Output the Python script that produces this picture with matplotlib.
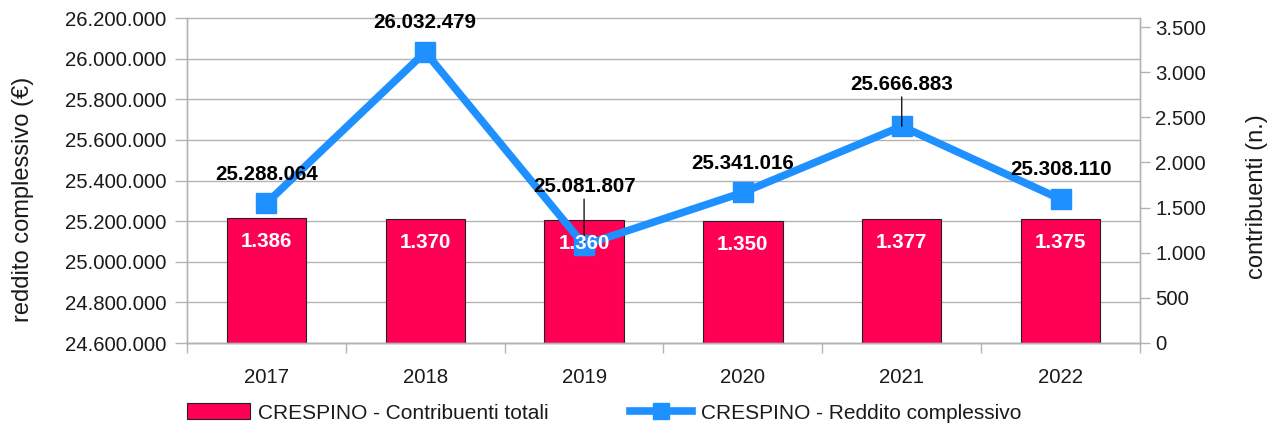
#!/usr/bin/env python

import numpy as np
import matplotlib
matplotlib.use('Agg')
from matplotlib import pyplot as plt
from matplotlib.ticker import FuncFormatter, FixedLocator
from matplotlib.transforms import blended_transform_factory

plt.rcParams['font.family'] = ['Liberation Sans', 'DejaVu Sans']

years = ['2017', '2018', '2019', '2020', '2021', '2022']
contribuenti = [1386, 1370, 1360, 1350, 1377, 1375]
reddito = [25288064, 26032479, 25081807, 25341016, 25666883, 25308110]

label_bar = 'CRESPINO - Contribuenti totali'
label_line = 'CRESPINO - Reddito complessivo'

BAR_COLOR = '#ff0055'
LINE_COLOR = '#1e90ff'
GRID_COLOR = '#b3b3b3'
TEXT_COLOR = '#1a1a1a'
FS = 14.7      # tick labels
FS_DATA = 14.8 # value labels
FS_AX = 17     # axis titles
FS_LEG = 15

W, H = 1277, 428


def dotted(v, pos=None):
    return f'{int(round(v)):,}'.replace(',', '.')


def plot():
    fig = plt.figure(figsize=(W / 100, H / 100), dpi=100)
    ax = fig.add_axes([187 / W, 1 - 343 / H, (1140 - 187) / W, (343 - 18) / H])
    ax2 = ax.twinx()
    # line axes on top of the bar axes
    ax2.set_zorder(1)
    ax.set_zorder(2)
    ax.patch.set_visible(False)

    x = np.arange(len(years))

    # right axis: bars
    ax2.bar(x, contribuenti, width=0.5, color=BAR_COLOR, edgecolor='#222222', linewidth=0.8, zorder=2)
    ax2.set_ylim(0, 3600)
    ax2.yaxis.set_major_locator(FixedLocator(np.arange(0, 3501, 500)))
    ax2.yaxis.set_major_formatter(FuncFormatter(dotted))
    ax2.set_ylabel('contribuenti (n.)', fontsize=FS_AX, color=TEXT_COLOR)
    ax2.yaxis.set_label_coords(1246 / W, 1 - 197 / H, transform=fig.transFigure)

    # left axis: line
    ax.plot(x, reddito, color=LINE_COLOR, lw=5.5, marker='s', markersize=14, zorder=3)
    ax.set_ylim(24600000, 26200000)
    left_ticks = np.arange(24600000, 26200001, 200000)
    ax.yaxis.set_major_locator(FixedLocator(left_ticks))
    ax.yaxis.set_major_formatter(FuncFormatter(dotted))
    ax.set_ylabel('reddito complessivo (€)', fontsize=FS_AX, color=TEXT_COLOR)
    ax.yaxis.set_label_coords(34 / W, 1 - 199 / H, transform=fig.transFigure)

    # grid lines in left-axis units, drawn behind the bars
    trans = blended_transform_factory(ax2.transAxes, ax.transData)
    ax2.hlines(left_ticks, 0, 1, transform=trans, colors=GRID_COLOR, lw=1, zorder=0, clip_on=False)
    ax.grid(False)
    ax2.grid(False)

    ax.set_xlim(-0.5, len(years) - 0.5)
    ax.set_xticks(x)
    ax.set_xticklabels(years)
    ax.set_xticks(np.arange(-0.5, len(years), 1), minor=True)
    ax.tick_params(axis='x', which='major', length=0, pad=18, labelsize=FS, labelcolor=TEXT_COLOR)
    ax.tick_params(axis='x', which='minor', length=7, color=GRID_COLOR, width=1)
    ax.tick_params(axis='y', length=8.6, color=GRID_COLOR, width=1, labelsize=FS, labelcolor=TEXT_COLOR, pad=6)
    ax2.tick_params(axis='y', length=7, color=GRID_COLOR, width=1, labelsize=FS, labelcolor=TEXT_COLOR, pad=4)

    for a in (ax, ax2):
        for s in a.spines.values():
            s.set_color(GRID_COLOR)
            s.set_linewidth(1)
        a.spines['top'].set_visible(False)

    # value labels on the line
    offsets = [21, 21, 42, 21, 30, 21]
    leaders = [False, False, True, False, True, False]
    for i, v in enumerate(reddito):
        kw = {}
        if leaders[i]:
            kw['arrowprops'] = dict(arrowstyle='-', color='black', lw=0.9, shrinkA=0, shrinkB=0)
        ax.annotate(dotted(v), xy=(i, v), xytext=(0, offsets[i]), textcoords='offset points',
                    ha='center', va='center', fontsize=FS_DATA, fontweight='bold', color='black',
                    zorder=5, **kw)

    # value labels inside the bars (drawn on the top axes so they sit above the line)
    for i, v in enumerate(contribuenti):
        ax.annotate(dotted(v), xy=(i, v), xycoords=ax2.transData, xytext=(0, -17),
                    textcoords='offset points', ha='center', va='center', fontsize=FS_DATA,
                    fontweight='bold', color='white', zorder=6)

    handles = [
        plt.Rectangle((0, 0), 1, 1, facecolor=BAR_COLOR, edgecolor='#222222', linewidth=0.8),
        plt.Line2D([], [], color=LINE_COLOR, lw=5.5, marker='s', markersize=12),
    ]
    fig.legend(handles, [label_bar, label_line], loc='center', ncol=2,
               bbox_to_anchor=(604 / W, 1 - 413 / H), frameon=False, fontsize=FS_LEG,
               handlelength=3.0, handleheight=0.8, handletextpad=0.4, columnspacing=3.9,
               labelcolor=TEXT_COLOR)

    fig.savefig('out.png', dpi=100)
    plt.close(fig)


def main():
    plot()


if __name__ == '__main__':
    main()
